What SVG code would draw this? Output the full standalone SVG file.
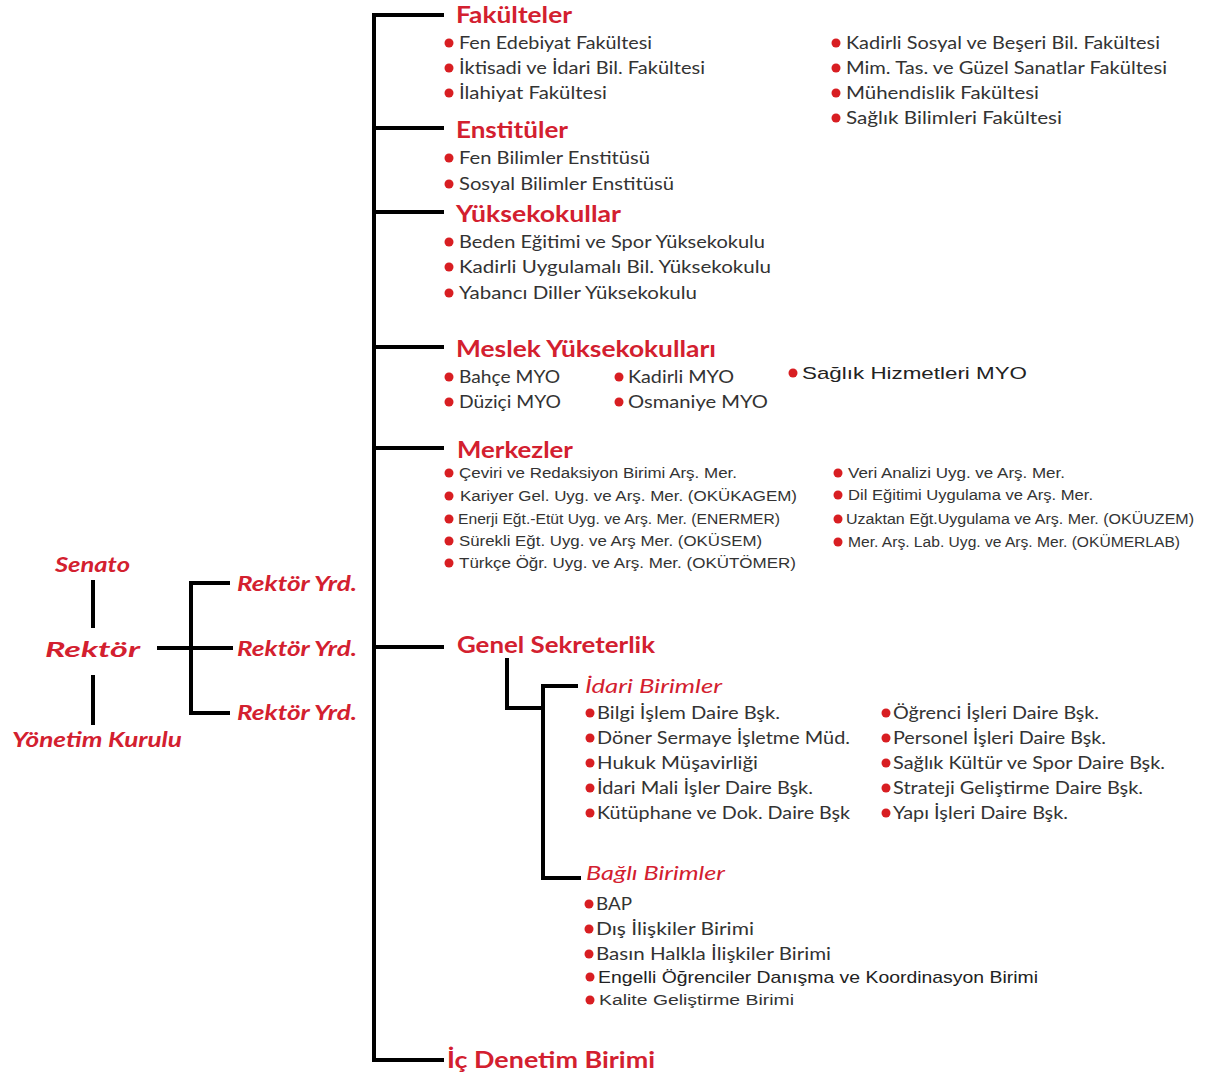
<svg xmlns="http://www.w3.org/2000/svg" width="1208" height="1082" viewBox="0 0 1208 1082">
<style>
.h{font-family:Lato,"Open Sans","Liberation Sans",sans-serif;font-weight:bold;font-size:22px;fill:#d3202f}
.hi{font-family:Lato,"Open Sans","Liberation Sans",sans-serif;font-style:italic;font-size:20px;fill:#d3202f}
.l{font-family:Lato,"Open Sans","Liberation Sans",sans-serif;font-weight:bold;font-style:italic;font-size:20px;fill:#d3202f}
.t{font-family:Lato,"Open Sans","Liberation Sans",sans-serif;font-size:17px;fill:#333}
.a{font-family:"Liberation Sans",Arial,sans-serif;font-size:14px;fill:#333}
.a2{font-family:"Liberation Sans",Arial,sans-serif;font-size:17px;fill:#222}
.b{fill:#d81e22}
.c{stroke:#000;stroke-width:4;fill:none}
</style>
<rect width="1208" height="1082" fill="#fff"/>
<g id="connectors">
<path class="c" d="M374 14 V1062 M372 15 H444 M372 128 H444 M372 212 H444 M372 347 H444 M372 448 H444 M372 647 H444 M372 1060 H444"/>
<path class="c" d="M507 658 V708 H545 M543 686 V878 M541 686 H578 M541 878 H581"/>
<path class="c" d="M93 580 V628 M93 675 V725 M157 648 H233 M191 581 V715 M189 583 H230 M189 713 H230"/>
</g>
<g id="senato"><text class="l" x="55" y="572" textLength="75" lengthAdjust="spacingAndGlyphs">Senato</text></g>
<g id="rektor"><text class="l" x="45" y="657" font-size="28" textLength="95" lengthAdjust="spacingAndGlyphs">Rektör</text></g>
<g id="yonetim"><text class="l" x="12" y="747" textLength="170" lengthAdjust="spacingAndGlyphs">Yönetim Kurulu</text></g>
<g id="yrd1"><text class="l" x="237" y="591" textLength="120" lengthAdjust="spacingAndGlyphs">Rektör Yrd.</text></g>
<g id="yrd2"><text class="l" x="237" y="656" textLength="120" lengthAdjust="spacingAndGlyphs">Rektör Yrd.</text></g>
<g id="yrd3"><text class="l" x="237" y="720" textLength="120" lengthAdjust="spacingAndGlyphs">Rektör Yrd.</text></g>

<g id="fakulteler">
<text class="h" x="456" y="23" textLength="116" lengthAdjust="spacingAndGlyphs">Fakülteler</text>
<circle class="b" cx="449" cy="43" r="4.5"/><text class="t" x="459" y="49" textLength="193" lengthAdjust="spacingAndGlyphs">Fen Edebiyat Fakültesi</text>
<circle class="b" cx="449" cy="68" r="4.5"/><text class="t" x="459" y="74" textLength="246" lengthAdjust="spacingAndGlyphs">İktisadi ve İdari Bil. Fakültesi</text>
<circle class="b" cx="449" cy="93" r="4.5"/><text class="t" x="459" y="99" textLength="148" lengthAdjust="spacingAndGlyphs">İlahiyat Fakültesi</text>
<circle class="b" cx="836" cy="43" r="4.5"/><text class="t" x="846" y="49" textLength="314" lengthAdjust="spacingAndGlyphs">Kadirli Sosyal ve Beşeri Bil. Fakültesi</text>
<circle class="b" cx="836" cy="68" r="4.5"/><text class="t" x="846" y="74" textLength="321" lengthAdjust="spacingAndGlyphs">Mim. Tas. ve Güzel Sanatlar Fakültesi</text>
<circle class="b" cx="836" cy="93" r="4.5"/><text class="t" x="846" y="99" textLength="193" lengthAdjust="spacingAndGlyphs">Mühendislik Fakültesi</text>
<circle class="b" cx="836" cy="118" r="4.5"/><text class="t" x="846" y="124" textLength="216" lengthAdjust="spacingAndGlyphs">Sağlık Bilimleri Fakültesi</text>
</g>

<g id="enstituler">
<text class="h" x="456" y="138" textLength="112" lengthAdjust="spacingAndGlyphs">Enstitüler</text>
<circle class="b" cx="449" cy="158" r="4.5"/><text class="t" x="459" y="164" textLength="191" lengthAdjust="spacingAndGlyphs">Fen Bilimler Enstitüsü</text>
<circle class="b" cx="449" cy="184" r="4.5"/><text class="t" x="459" y="190" textLength="215" lengthAdjust="spacingAndGlyphs">Sosyal Bilimler Enstitüsü</text>
</g>

<g id="yuksekokullar">
<text class="h" x="456" y="222" textLength="165" lengthAdjust="spacingAndGlyphs">Yüksekokullar</text>
<circle class="b" cx="449" cy="242" r="4.5"/><text class="t" x="459" y="248" textLength="306" lengthAdjust="spacingAndGlyphs">Beden Eğitimi ve Spor Yüksekokulu</text>
<circle class="b" cx="449" cy="267" r="4.5"/><text class="t" x="459" y="273" textLength="312" lengthAdjust="spacingAndGlyphs">Kadirli Uygulamalı Bil. Yüksekokulu</text>
<circle class="b" cx="449" cy="293" r="4.5"/><text class="t" x="459" y="299" textLength="238" lengthAdjust="spacingAndGlyphs">Yabancı Diller Yüksekokulu</text>
</g>

<g id="meslek">
<text class="h" x="456" y="357" textLength="260" lengthAdjust="spacingAndGlyphs">Meslek Yüksekokulları</text>
<circle class="b" cx="449" cy="377" r="4.5"/><text class="t" x="459" y="383" textLength="101" lengthAdjust="spacingAndGlyphs">Bahçe MYO</text>
<circle class="b" cx="449" cy="402" r="4.5"/><text class="t" x="459" y="408" textLength="102" lengthAdjust="spacingAndGlyphs">Düziçi MYO</text>
<circle class="b" cx="619" cy="377" r="4.5"/><text class="t" x="628" y="383" textLength="106" lengthAdjust="spacingAndGlyphs">Kadirli MYO</text>
<circle class="b" cx="619" cy="402" r="4.5"/><text class="t" x="628" y="408" textLength="140" lengthAdjust="spacingAndGlyphs">Osmaniye MYO</text>
<circle class="b" cx="793" cy="373" r="4.5"/><text class="a2" x="802" y="379" textLength="225" lengthAdjust="spacingAndGlyphs">Sağlık Hizmetleri MYO</text>
</g>

<g id="merkezler">
<text class="h" x="457" y="458" textLength="116" lengthAdjust="spacingAndGlyphs">Merkezler</text>
<circle class="b" cx="449" cy="473" r="4.5"/><text class="a" x="459" y="478" textLength="278" lengthAdjust="spacingAndGlyphs">Çeviri ve Redaksiyon Birimi Arş. Mer.</text>
<circle class="b" cx="449" cy="496" r="4.5"/><text class="a" x="460" y="501" textLength="337" lengthAdjust="spacingAndGlyphs">Kariyer Gel. Uyg. ve Arş. Mer. (OKÜKAGEM)</text>
<circle class="b" cx="449" cy="519" r="4.5"/><text class="a" x="458" y="524" textLength="322" lengthAdjust="spacingAndGlyphs">Enerji Eğt.-Etüt Uyg. ve Arş. Mer. (ENERMER)</text>
<circle class="b" cx="449" cy="541" r="4.5"/><text class="a" x="459" y="546" textLength="303" lengthAdjust="spacingAndGlyphs">Sürekli Eğt. Uyg. ve Arş Mer. (OKÜSEM)</text>
<circle class="b" cx="449" cy="563" r="4.5"/><text class="a" x="459" y="568" textLength="337" lengthAdjust="spacingAndGlyphs">Türkçe Öğr. Uyg. ve Arş. Mer. (OKÜTÖMER)</text>
<circle class="b" cx="838" cy="473" r="4.5"/><text class="a" x="848" y="478" textLength="217" lengthAdjust="spacingAndGlyphs">Veri Analizi Uyg. ve Arş. Mer.</text>
<circle class="b" cx="838" cy="495" r="4.5"/><text class="a" x="848" y="500" textLength="245" lengthAdjust="spacingAndGlyphs">Dil Eğitimi Uygulama ve Arş. Mer.</text>
<circle class="b" cx="838" cy="519" r="4.5"/><text class="a" x="846" y="524" textLength="348" lengthAdjust="spacingAndGlyphs">Uzaktan Eğt.Uygulama ve Arş. Mer. (OKÜUZEM)</text>
<circle class="b" cx="838" cy="542" r="4.5"/><text class="a" x="848" y="547" textLength="332" lengthAdjust="spacingAndGlyphs">Mer. Arş. Lab. Uyg. ve Arş. Mer. (OKÜMERLAB)</text>
</g>

<g id="genel-sekreterlik">
<text class="h" x="457" y="653" textLength="198" lengthAdjust="spacingAndGlyphs">Genel Sekreterlik</text>
</g>

<g id="idari-birimler">
<text class="hi" x="585" y="693" textLength="137" lengthAdjust="spacingAndGlyphs">İdari Birimler</text>
<circle class="b" cx="590" cy="713" r="4.5"/><text class="t" x="597" y="719" textLength="183" lengthAdjust="spacingAndGlyphs">Bilgi İşlem Daire Bşk.</text>
<circle class="b" cx="590" cy="738" r="4.5"/><text class="t" x="597" y="744" textLength="253" lengthAdjust="spacingAndGlyphs">Döner Sermaye İşletme Müd.</text>
<circle class="b" cx="590" cy="763" r="4.5"/><text class="t" x="597" y="769" textLength="161" lengthAdjust="spacingAndGlyphs">Hukuk Müşavirliği</text>
<circle class="b" cx="590" cy="788" r="4.5"/><text class="t" x="597" y="794" textLength="216" lengthAdjust="spacingAndGlyphs">İdari Mali İşler Daire Bşk.</text>
<circle class="b" cx="590" cy="813" r="4.5"/><text class="t" x="597" y="819" textLength="253" lengthAdjust="spacingAndGlyphs">Kütüphane ve Dok. Daire Bşk</text>
<circle class="b" cx="886" cy="713" r="4.5"/><text class="t" x="893" y="719" textLength="206" lengthAdjust="spacingAndGlyphs">Öğrenci İşleri Daire Bşk.</text>
<circle class="b" cx="886" cy="738" r="4.5"/><text class="t" x="893" y="744" textLength="213" lengthAdjust="spacingAndGlyphs">Personel İşleri Daire Bşk.</text>
<circle class="b" cx="886" cy="763" r="4.5"/><text class="t" x="893" y="769" textLength="272" lengthAdjust="spacingAndGlyphs">Sağlık Kültür ve Spor Daire Bşk.</text>
<circle class="b" cx="886" cy="788" r="4.5"/><text class="t" x="893" y="794" textLength="250" lengthAdjust="spacingAndGlyphs">Strateji Geliştirme Daire Bşk.</text>
<circle class="b" cx="886" cy="813" r="4.5"/><text class="t" x="893" y="819" textLength="175" lengthAdjust="spacingAndGlyphs">Yapı İşleri Daire Bşk.</text>
</g>

<g id="bagli-birimler">
<text class="hi" x="586" y="880" textLength="139" lengthAdjust="spacingAndGlyphs">Bağlı Birimler</text>
<circle class="b" cx="589" cy="904" r="4.5"/><text class="t" x="596" y="910" textLength="36" lengthAdjust="spacingAndGlyphs">BAP</text>
<circle class="b" cx="589" cy="929" r="4.5"/><text class="t" x="596" y="935" textLength="158" lengthAdjust="spacingAndGlyphs">Dış İlişkiler Birimi</text>
<circle class="b" cx="589" cy="954" r="4.5"/><text class="t" x="596" y="960" textLength="235" lengthAdjust="spacingAndGlyphs">Basın Halkla İlişkiler Birimi</text>
<circle class="b" cx="590" cy="977" r="4.5"/><text class="a2" x="598" y="983" textLength="440" lengthAdjust="spacingAndGlyphs">Engelli Öğrenciler Danışma ve Koordinasyon Birimi</text>
<circle class="b" cx="590" cy="1000" r="4.5"/><text class="a" x="599" y="1005" font-size="15" textLength="195" lengthAdjust="spacingAndGlyphs">Kalite Geliştirme Birimi</text>
</g>

<g id="ic-denetim">
<text class="h" x="447" y="1068" textLength="208" lengthAdjust="spacingAndGlyphs">İç Denetim Birimi</text>
</g>
</svg>
